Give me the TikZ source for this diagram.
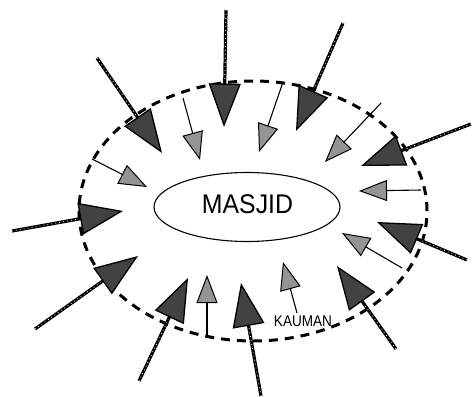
\documentclass[tikz,border=0pt]{standalone}
\usepackage{fontspec}
\setmainfont{Liberation Sans}
\usetikzlibrary{arrows.meta,shapes.geometric}
\begin{document}
\begin{tikzpicture}[x=1pt,y=-1pt,
  region/.style={draw, ellipse, line width=3pt, dash pattern=on 9pt off 7pt,
    minimum width=348pt, minimum height=260pt, inner sep=0pt},
  core/.style={draw, ellipse, line width=1.1pt, minimum width=186pt,
    minimum height=69pt, inner sep=0pt},
  outerarrow/.style={line width=3.2pt,
    -{Triangle[length=43.5pt,width=32pt,fill=black!74,line width=1.3pt]},
    postaction={draw=white, line width=0.8pt, arrows=-, dash pattern=on 0.8pt off 3.2pt, shorten >=46pt}},
  innerarrow/.style={line width=1.1pt,
    -{Triangle[length=28pt,width=21pt,fill=black!42,line width=1pt]}},
  label/.style={inner sep=0pt, font=\fontsize{15.5}{16}\selectfont}
]
\useasboundingbox (0,0) rectangle (473,396);

\node[region] (kauman) at (253,211) {};
\node[core] (masjid) at (247,207) {};
\node[inner sep=0pt, font=\fontsize{27}{28}\selectfont] (masjidtext) at (247.5,204.5) {\scalebox{0.92}[1]{MASJID}};
\node[label] (kaumantext) at (303,321) {\scalebox{0.875}[1]{KAUMAN}};

% outer arrows (start -> tip)
\coordinate (sA) at (97,58);   \coordinate (tA) at (162,153);
\coordinate (sB) at (226,10);  \coordinate (tB) at (224,127);
\coordinate (sF) at (343,23);  \coordinate (tF) at (296,131);
\coordinate (sH) at (471,124); \coordinate (tH) at (361,166);
\coordinate (sR) at (467,260); \coordinate (tR) at (377,222);
\coordinate (sP) at (396,349); \coordinate (tP) at (337,266);
\coordinate (sN) at (261,396); \coordinate (tN) at (241,283);
\coordinate (sL) at (139,381); \coordinate (tL) at (188,278);
\coordinate (sK) at (35,329);  \coordinate (tK) at (138,256);
\coordinate (sJ) at (12,231);  \coordinate (tJ) at (123,211);

\foreach \a in {A,B,F,H,R,P,N,L,K,J}
  \draw[outerarrow] (s\a) -- (t\a);

% inner arrows
\coordinate (sC) at (183,98);  \coordinate (tC) at (200,160);
\coordinate (sD) at (92,159);  \coordinate (tD) at (147,187);
\coordinate (sE) at (283,82);  \coordinate (tE) at (259,152);
\coordinate (sG) at (381,103); \coordinate (tG) at (325,162);
\coordinate (sI) at (421,190); \coordinate (tI) at (359,191);
\coordinate (sQ) at (402,268); \coordinate (tQ) at (342,233);
\coordinate (sO) at (297,313); \coordinate (tO) at (283,262);
\coordinate (sM) at (207,338); \coordinate (tM) at (207,275);

\foreach \a in {C,D,E,G,I,Q,O,M}
  \draw[innerarrow] (s\a) -- (t\a);
\end{tikzpicture}
\end{document}
